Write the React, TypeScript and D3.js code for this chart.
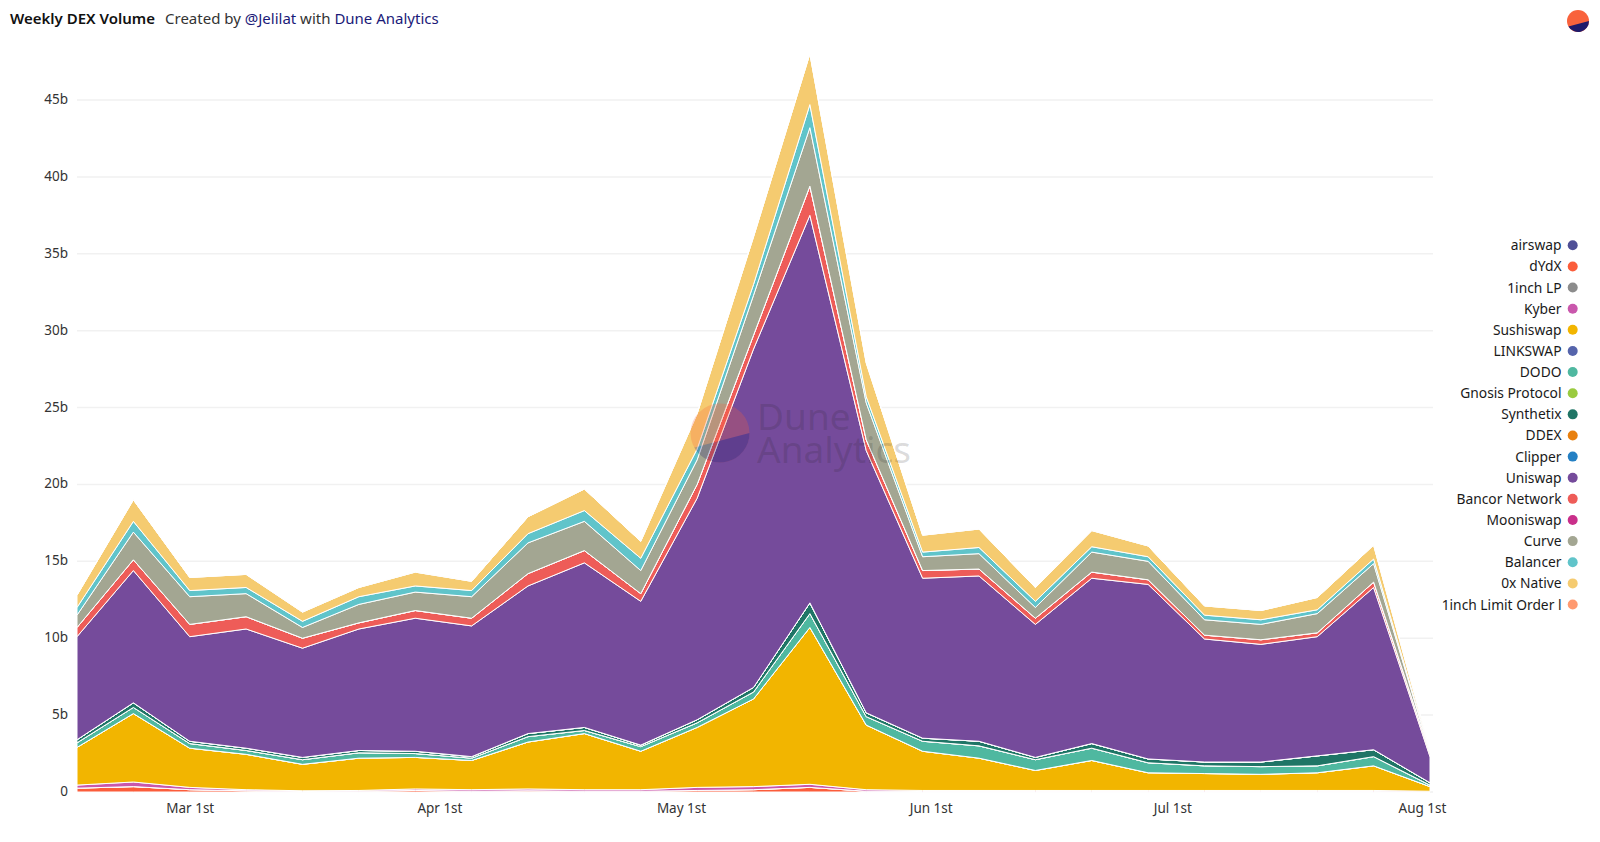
import { useEffect, useRef } from "react";
import * as d3 from "d3";

const width = 1600;
const height = 842;
const FONT = "'Noto Sans', sans-serif";

// weekly buckets, billions of USD
const weeks = [
  "2021-02-15", "2021-02-22", "2021-03-01", "2021-03-08", "2021-03-15", "2021-03-22", "2021-03-29",
  "2021-04-05", "2021-04-12", "2021-04-19", "2021-04-26", "2021-05-03", "2021-05-10", "2021-05-17",
  "2021-05-24", "2021-05-31", "2021-06-07", "2021-06-14", "2021-06-21", "2021-06-28", "2021-07-05",
  "2021-07-12", "2021-07-19", "2021-07-26", "2021-08-02",
];

const airswap = [0, 0, 0, 0, 0, 0, 0, 0, 0, 0, 0, 0, 0, 0, 0, 0, 0, 0, 0, 0, 0, 0, 0, 0, 0];
const dydx = [0.25, 0.35, 0.15, 0.08, 0.03, 0.05, 0.1, 0.05, 0.08, 0.05, 0.05, 0.1, 0.15, 0.3, 0.05, 0.03, 0.03, 0.03, 0.03, 0.03, 0.03, 0.03, 0.03, 0.03, 0.01];
const oneInchLp = [0, 0, 0, 0, 0, 0, 0, 0, 0, 0, 0, 0, 0, 0, 0, 0, 0, 0, 0, 0, 0, 0, 0, 0, 0];
const kyber = [0.2, 0.3, 0.15, 0.07, 0.05, 0.05, 0.1, 0.1, 0.12, 0.1, 0.1, 0.2, 0.2, 0.2, 0.1, 0.07, 0.07, 0.07, 0.07, 0.07, 0.07, 0.07, 0.07, 0.07, 0.04];
const sushiswap = [2.45, 4.45, 2.55, 2.3, 1.72, 2.1, 2.05, 1.9, 3.05, 3.65, 2.5, 3.9, 5.7, 10.2, 4.2, 2.55, 2.1, 1.3, 1.95, 1.15, 1.1, 1.05, 1.15, 1.6, 0.3];
const linkswap = [0, 0, 0, 0, 0, 0, 0, 0, 0, 0, 0, 0, 0, 0, 0, 0, 0, 0, 0, 0, 0, 0, 0, 0, 0];
const dodo = [0.3, 0.4, 0.3, 0.25, 0.3, 0.35, 0.25, 0.15, 0.35, 0.2, 0.3, 0.3, 0.45, 0.9, 0.55, 0.65, 0.8, 0.7, 0.8, 0.65, 0.5, 0.5, 0.45, 0.6, 0.1];
const gnosis = [0, 0, 0, 0, 0, 0, 0, 0, 0, 0, 0, 0, 0, 0, 0, 0, 0, 0, 0, 0, 0, 0, 0, 0, 0];
const synthetix = [0.2, 0.3, 0.15, 0.15, 0.15, 0.15, 0.15, 0.1, 0.2, 0.2, 0.1, 0.2, 0.3, 0.7, 0.25, 0.2, 0.3, 0.15, 0.3, 0.25, 0.25, 0.3, 0.65, 0.45, 0.15];
const ddex = [0, 0, 0, 0, 0, 0, 0, 0, 0, 0, 0, 0, 0, 0, 0, 0, 0, 0, 0, 0, 0, 0, 0, 0, 0];
const clipper = [0, 0, 0, 0, 0, 0, 0, 0, 0, 0, 0, 0, 0, 0, 0, 0, 0, 0, 0, 0, 0, 0, 0, 0, 0];
const uniswap = [6.7, 8.6, 6.8, 7.75, 7.1, 7.9, 8.65, 8.5, 9.6, 10.7, 9.35, 14.4, 22, 25.2, 17.05, 10.4, 10.75, 8.65, 10.75, 11.35, 8, 7.65, 7.75, 10.55, 1.7];
const bancor = [0.6, 0.7, 0.8, 0.8, 0.65, 0.4, 0.5, 0.5, 0.8, 0.8, 0.5, 0.9, 0.9, 1.9, 0.7, 0.5, 0.45, 0.4, 0.4, 0.3, 0.25, 0.3, 0.25, 0.35, 0.2];
const mooniswap = [0, 0, 0, 0, 0, 0, 0, 0, 0, 0, 0, 0, 0, 0, 0, 0, 0, 0, 0, 0, 0, 0, 0, 0, 0];
const curve = [0.8, 1.8, 1.8, 1.5, 0.7, 1.2, 1.2, 1.4, 2, 1.9, 1.5, 1.6, 2.6, 3.8, 2.4, 0.9, 1, 0.7, 1.3, 1.2, 1, 1, 1.25, 1.2, 0.05];
const balancer = [0.5, 0.7, 0.4, 0.4, 0.4, 0.5, 0.4, 0.4, 0.6, 0.7, 0.8, 0.7, 0.7, 1.5, 0.4, 0.3, 0.4, 0.4, 0.35, 0.3, 0.3, 0.3, 0.25, 0.3, 0.05];
const zeroX = [0.8, 1.4, 0.85, 0.85, 0.6, 0.6, 0.9, 0.6, 1.1, 1.4, 1.1, 2.3, 3.1, 3.3, 2.2, 1.1, 1.2, 0.9, 1.05, 0.7, 0.6, 0.6, 0.8, 0.9, 0.1];
const limitOrder = [0, 0, 0, 0, 0, 0, 0, 0, 0, 0, 0, 0, 0, 0, 0, 0, 0, 0, 0, 0, 0, 0, 0, 0, 0];

const seriesNames = [
  "airswap", "dYdX", "1inch LP", "Kyber", "Sushiswap", "LINKSWAP", "DODO", "Gnosis Protocol", "Synthetix",
  "DDEX", "Clipper", "Uniswap", "Bancor Network", "Mooniswap", "Curve", "Balancer", "0x Native", "1inch Limit Order l",
];
const seriesValues = [
  airswap, dydx, oneInchLp, kyber, sushiswap, linkswap, dodo, gnosis, synthetix,
  ddex, clipper, uniswap, bancor, mooniswap, curve, balancer, zeroX, limitOrder,
];
const seriesColors = [
  "#4f4f96", "#fb5d3b", "#8c8c8c", "#c957ac", "#f2b500", "#5564ab", "#4fb8a0", "#9acb3f", "#1f7566",
  "#e8800f", "#2480c4", "#754b9b", "#ee5c58", "#c92f8a", "#a3a692", "#60c4ca", "#f5cb70", "#ff9a70",
];

const yTicks = [0, 5, 10, 15, 20, 25, 30, 35, 40, 45];

// orange disc with a navy segment cut off along a chord
function drawLogo(parent: any, cx: number, cy: number, r: number) {
  const g = parent.append("g").attr("transform", `translate(${cx},${cy})`);
  g.append("circle").attr("r", r).attr("fill", "#f9623c");
  const seg = d3.path();
  seg.moveTo(r, 0);
  seg.arc(0, 0, r, 0, 2.63);
  seg.closePath();
  g.append("path").attr("d", seg.toString()).attr("fill", "#1f1a6b");
}

function App() {
  const ref = useRef<SVGSVGElement | null>(null);

  useEffect(() => {
    const svg = d3.select(ref.current);
    svg.selectAll("*").remove();

    const dates = weeks.map((d) => new Date(d + "T00:00:00Z"));
    const x = d3
      .scaleUtc()
      .domain([dates[0], dates[dates.length - 1]])
      .range([77, 1430]);
    const y = d3.scaleLinear().domain([0, 45]).range([792, 100]);

    // grid + y labels
    svg
      .append("g")
      .selectAll("line")
      .data(yTicks)
      .join("line")
      .attr("x1", 77)
      .attr("x2", 1433)
      .attr("y1", (d) => y(d))
      .attr("y2", (d) => y(d))
      .attr("stroke", "#f1f1f1")
      .attr("stroke-width", 1.5);

    svg
      .append("g")
      .selectAll("text")
      .data(yTicks)
      .join("text")
      .attr("x", 68)
      .attr("y", (d) => y(d) + 4)
      .attr("text-anchor", "end")
      .attr("font-size", 13.5)
      .attr("font-family", FONT)
      .attr("fill", "#333")
      .text((d) => (d === 0 ? "0" : `${d}b`));

    // stacked areas
    const table = dates.map((date, i) => {
      const row: Record<string, number | Date> = { date };
      seriesNames.forEach((name, s) => (row[name] = seriesValues[s][i]));
      return row;
    });
    const stacked = d3.stack<any>().keys(seriesNames)(table);
    const area = d3
      .area<any>()
      .x((d) => x(d.data.date))
      .y0((d) => y(d[0]))
      .y1((d) => y(d[1]));

    svg
      .append("g")
      .selectAll("path")
      .data(stacked)
      .join("path")
      .attr("d", (d) => area(d))
      .attr("fill", (_, i) => seriesColors[i])
      .attr("stroke", "#fff")
      .attr("stroke-width", 1);

    // x axis
    const xAxis = svg
      .append("g")
      .attr("transform", "translate(0,800)")
      .call(
        d3
          .axisBottom(x)
          .ticks(d3.utcMonth.every(1))
          .tickSize(0)
          .tickFormat((d) => d3.utcFormat("%b %-dst")(d as Date))
      );
    xAxis.select(".domain").remove();
    xAxis.selectAll("text").attr("font-size", 13.5).attr("font-family", FONT).attr("fill", "#333");

    // watermark
    drawLogo(svg.append("g").attr("opacity", 0.25), 720, 433, 29.5);
    const mark = svg
      .append("text")
      .attr("font-family", FONT)
      .attr("font-size", 37)
      .attr("fill", "#222")
      .attr("fill-opacity", 0.17);
    mark.append("tspan").attr("x", 757).attr("y", 430).text("Dune");
    mark.append("tspan").attr("x", 757).attr("y", 463).text("Analytics");

    // header
    const header = svg
      .append("text")
      .attr("x", 10)
      .attr("y", 24)
      .attr("font-family", FONT)
      .attr("font-size", 15)
      .attr("fill", "#333");
    header.append("tspan").attr("font-weight", 600).attr("fill", "#111").text("Weekly DEX Volume");
    header.append("tspan").attr("x", 165).text("Created by ");
    header.append("tspan").attr("fill", "#1a1a78").text("@Jelilat");
    header.append("tspan").text(" with ");
    header.append("tspan").attr("fill", "#1a1a78").text("Dune Analytics");

    drawLogo(svg, 1578, 21, 11);

    // legend
    const legend = svg
      .append("g")
      .selectAll("g")
      .data(seriesNames)
      .join("g")
      .attr("transform", (_, i) => `translate(0,${245.3 + i * 21.13})`);
    legend
      .append("text")
      .attr("x", 1561.5)
      .attr("y", 5)
      .attr("text-anchor", "end")
      .attr("font-family", FONT)
      .attr("font-size", 13.8)
      .attr("fill", "#1a1a1a")
      .text((d) => d);
    legend
      .append("circle")
      .attr("cx", 1572.7)
      .attr("r", 5)
      .attr("fill", (_, i) => seriesColors[i]);
  }, []);

  return (
    <svg
      ref={ref}
      width={width}
      height={height}
      style={{ position: "absolute", left: 0, top: 0, display: "block", background: "#fff" }}
    />
  );
}

export default App;
